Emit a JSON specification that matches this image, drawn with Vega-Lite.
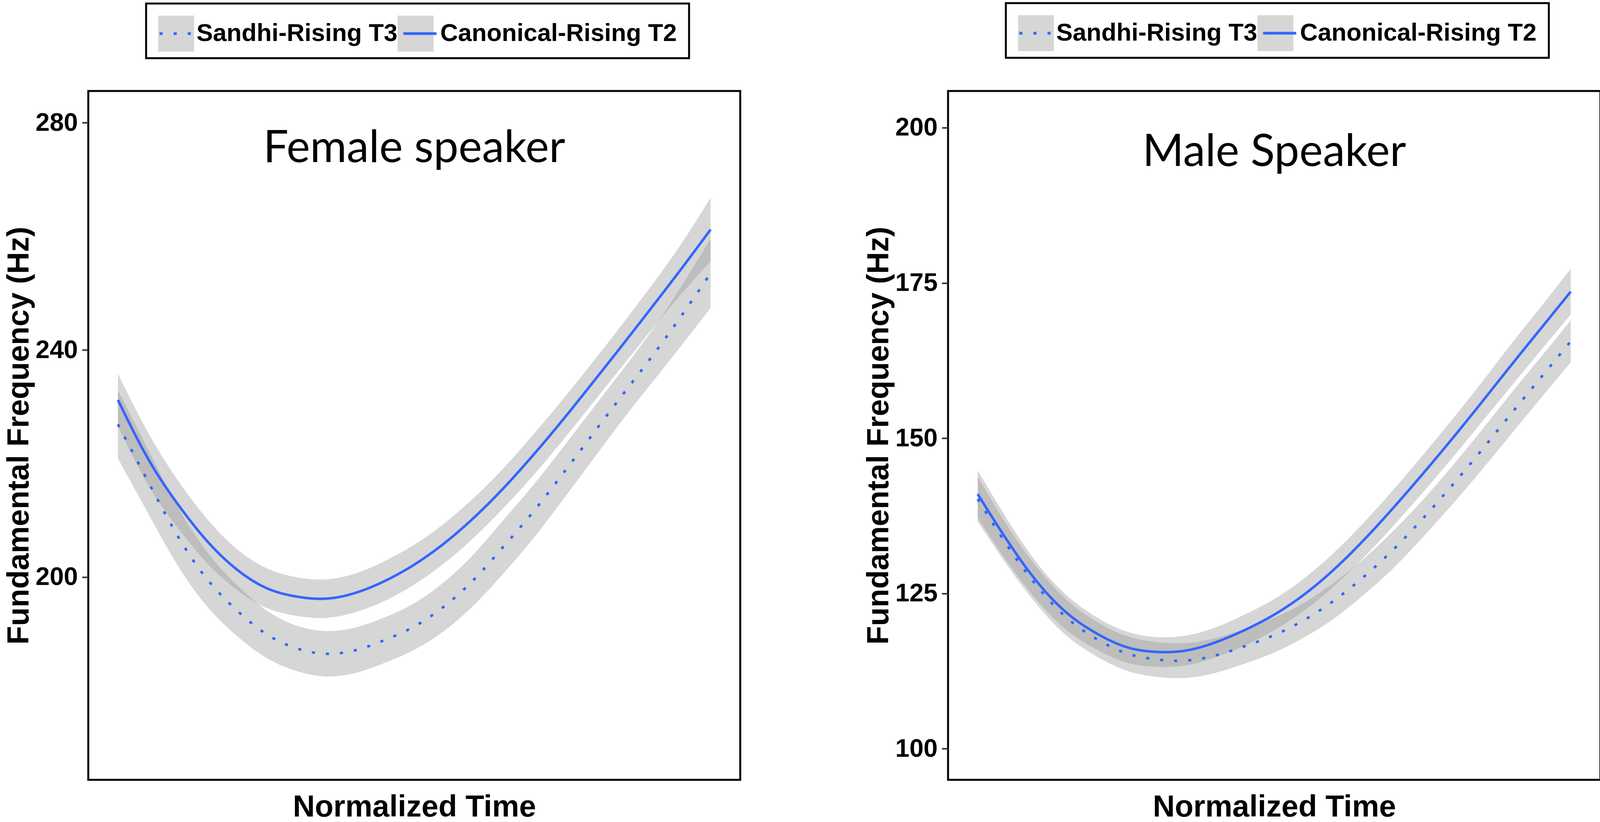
{
  "$schema": "https://vega.github.io/schema/vega-lite/v6.json",
  "background": "white",
  "padding": {"left": 8, "top": 3, "right": 0, "bottom": 0},
  "data": {
    "values": [
      {"speaker": "Female", "tone": "Sandhi-Rising T3", "t": 0.00, "f0": 226.9, "lo": 220.9, "hi": 232.9},
      {"speaker": "Female", "tone": "Sandhi-Rising T3", "t": 0.05, "f0": 217.0, "lo": 211.4, "hi": 222.6},
      {"speaker": "Female", "tone": "Sandhi-Rising T3", "t": 0.10, "f0": 207.4, "lo": 202.2, "hi": 212.6},
      {"speaker": "Female", "tone": "Sandhi-Rising T3", "t": 0.15, "f0": 199.7, "lo": 194.9, "hi": 204.5},
      {"speaker": "Female", "tone": "Sandhi-Rising T3", "t": 0.20, "f0": 194.2, "lo": 189.7, "hi": 198.7},
      {"speaker": "Female", "tone": "Sandhi-Rising T3", "t": 0.25, "f0": 190.0, "lo": 185.8, "hi": 194.2},
      {"speaker": "Female", "tone": "Sandhi-Rising T3", "t": 0.30, "f0": 187.5, "lo": 183.5, "hi": 191.5},
      {"speaker": "Female", "tone": "Sandhi-Rising T3", "t": 0.35, "f0": 186.5, "lo": 182.5, "hi": 190.5},
      {"speaker": "Female", "tone": "Sandhi-Rising T3", "t": 0.40, "f0": 187.1, "lo": 183.1, "hi": 191.1},
      {"speaker": "Female", "tone": "Sandhi-Rising T3", "t": 0.45, "f0": 188.9, "lo": 184.9, "hi": 192.9},
      {"speaker": "Female", "tone": "Sandhi-Rising T3", "t": 0.50, "f0": 191.3, "lo": 187.2, "hi": 195.4},
      {"speaker": "Female", "tone": "Sandhi-Rising T3", "t": 0.55, "f0": 194.8, "lo": 190.5, "hi": 199.1},
      {"speaker": "Female", "tone": "Sandhi-Rising T3", "t": 0.60, "f0": 199.5, "lo": 195.0, "hi": 204.0},
      {"speaker": "Female", "tone": "Sandhi-Rising T3", "t": 0.65, "f0": 205.3, "lo": 200.6, "hi": 210.0},
      {"speaker": "Female", "tone": "Sandhi-Rising T3", "t": 0.70, "f0": 211.4, "lo": 206.7, "hi": 216.1},
      {"speaker": "Female", "tone": "Sandhi-Rising T3", "t": 0.75, "f0": 218.1, "lo": 213.5, "hi": 222.7},
      {"speaker": "Female", "tone": "Sandhi-Rising T3", "t": 0.80, "f0": 225.0, "lo": 220.5, "hi": 229.5},
      {"speaker": "Female", "tone": "Sandhi-Rising T3", "t": 0.85, "f0": 231.9, "lo": 227.5, "hi": 236.3},
      {"speaker": "Female", "tone": "Sandhi-Rising T3", "t": 0.90, "f0": 238.7, "lo": 234.1, "hi": 243.3},
      {"speaker": "Female", "tone": "Sandhi-Rising T3", "t": 0.95, "f0": 245.9, "lo": 240.7, "hi": 251.1},
      {"speaker": "Female", "tone": "Sandhi-Rising T3", "t": 1.00, "f0": 253.5, "lo": 247.4, "hi": 259.6},
      {"speaker": "Female", "tone": "Canonical-Rising T2", "t": 0.00, "f0": 231.2, "lo": 226.6, "hi": 235.8},
      {"speaker": "Female", "tone": "Canonical-Rising T2", "t": 0.05, "f0": 221.0, "lo": 216.4, "hi": 225.6},
      {"speaker": "Female", "tone": "Canonical-Rising T2", "t": 0.10, "f0": 213.0, "lo": 208.8, "hi": 217.2},
      {"speaker": "Female", "tone": "Canonical-Rising T2", "t": 0.15, "f0": 206.4, "lo": 202.5, "hi": 210.3},
      {"speaker": "Female", "tone": "Canonical-Rising T2", "t": 0.20, "f0": 201.4, "lo": 197.8, "hi": 205.0},
      {"speaker": "Female", "tone": "Canonical-Rising T2", "t": 0.25, "f0": 198.1, "lo": 194.6, "hi": 201.6},
      {"speaker": "Female", "tone": "Canonical-Rising T2", "t": 0.30, "f0": 196.6, "lo": 193.2, "hi": 200.0},
      {"speaker": "Female", "tone": "Canonical-Rising T2", "t": 0.35, "f0": 196.2, "lo": 192.8, "hi": 199.6},
      {"speaker": "Female", "tone": "Canonical-Rising T2", "t": 0.40, "f0": 197.2, "lo": 193.8, "hi": 200.6},
      {"speaker": "Female", "tone": "Canonical-Rising T2", "t": 0.45, "f0": 199.3, "lo": 195.8, "hi": 202.8},
      {"speaker": "Female", "tone": "Canonical-Rising T2", "t": 0.50, "f0": 202.2, "lo": 198.7, "hi": 205.7},
      {"speaker": "Female", "tone": "Canonical-Rising T2", "t": 0.55, "f0": 205.9, "lo": 202.4, "hi": 209.4},
      {"speaker": "Female", "tone": "Canonical-Rising T2", "t": 0.60, "f0": 210.4, "lo": 206.9, "hi": 213.9},
      {"speaker": "Female", "tone": "Canonical-Rising T2", "t": 0.65, "f0": 215.6, "lo": 212.1, "hi": 219.1},
      {"speaker": "Female", "tone": "Canonical-Rising T2", "t": 0.70, "f0": 221.4, "lo": 217.8, "hi": 225.0},
      {"speaker": "Female", "tone": "Canonical-Rising T2", "t": 0.75, "f0": 227.6, "lo": 224.0, "hi": 231.2},
      {"speaker": "Female", "tone": "Canonical-Rising T2", "t": 0.80, "f0": 234.1, "lo": 230.5, "hi": 237.7},
      {"speaker": "Female", "tone": "Canonical-Rising T2", "t": 0.85, "f0": 240.7, "lo": 237.0, "hi": 244.4},
      {"speaker": "Female", "tone": "Canonical-Rising T2", "t": 0.90, "f0": 247.4, "lo": 243.5, "hi": 251.3},
      {"speaker": "Female", "tone": "Canonical-Rising T2", "t": 0.95, "f0": 254.2, "lo": 249.8, "hi": 258.6},
      {"speaker": "Female", "tone": "Canonical-Rising T2", "t": 1.00, "f0": 261.2, "lo": 255.6, "hi": 266.8},
      {"speaker": "Male", "tone": "Sandhi-Rising T3", "t": 0.00, "f0": 140.2, "lo": 136.6, "hi": 143.8},
      {"speaker": "Male", "tone": "Sandhi-Rising T3", "t": 0.05, "f0": 132.7, "lo": 129.5, "hi": 135.9},
      {"speaker": "Male", "tone": "Sandhi-Rising T3", "t": 0.10, "f0": 126.2, "lo": 123.2, "hi": 129.2},
      {"speaker": "Male", "tone": "Sandhi-Rising T3", "t": 0.15, "f0": 121.1, "lo": 118.2, "hi": 124.0},
      {"speaker": "Male", "tone": "Sandhi-Rising T3", "t": 0.20, "f0": 117.7, "lo": 114.9, "hi": 120.5},
      {"speaker": "Male", "tone": "Sandhi-Rising T3", "t": 0.25, "f0": 115.4, "lo": 112.6, "hi": 118.2},
      {"speaker": "Male", "tone": "Sandhi-Rising T3", "t": 0.30, "f0": 114.4, "lo": 111.6, "hi": 117.2},
      {"speaker": "Male", "tone": "Sandhi-Rising T3", "t": 0.35, "f0": 114.2, "lo": 111.4, "hi": 117.0},
      {"speaker": "Male", "tone": "Sandhi-Rising T3", "t": 0.40, "f0": 115.0, "lo": 112.2, "hi": 117.8},
      {"speaker": "Male", "tone": "Sandhi-Rising T3", "t": 0.45, "f0": 116.5, "lo": 113.7, "hi": 119.3},
      {"speaker": "Male", "tone": "Sandhi-Rising T3", "t": 0.50, "f0": 118.3, "lo": 115.5, "hi": 121.1},
      {"speaker": "Male", "tone": "Sandhi-Rising T3", "t": 0.55, "f0": 120.7, "lo": 117.9, "hi": 123.5},
      {"speaker": "Male", "tone": "Sandhi-Rising T3", "t": 0.60, "f0": 123.8, "lo": 120.9, "hi": 126.7},
      {"speaker": "Male", "tone": "Sandhi-Rising T3", "t": 0.65, "f0": 127.6, "lo": 124.7, "hi": 130.5},
      {"speaker": "Male", "tone": "Sandhi-Rising T3", "t": 0.70, "f0": 132.0, "lo": 129.0, "hi": 135.0},
      {"speaker": "Male", "tone": "Sandhi-Rising T3", "t": 0.75, "f0": 137.0, "lo": 134.0, "hi": 140.0},
      {"speaker": "Male", "tone": "Sandhi-Rising T3", "t": 0.80, "f0": 142.4, "lo": 139.3, "hi": 145.5},
      {"speaker": "Male", "tone": "Sandhi-Rising T3", "t": 0.85, "f0": 148.1, "lo": 144.9, "hi": 151.3},
      {"speaker": "Male", "tone": "Sandhi-Rising T3", "t": 0.90, "f0": 154.0, "lo": 150.7, "hi": 157.3},
      {"speaker": "Male", "tone": "Sandhi-Rising T3", "t": 0.95, "f0": 159.8, "lo": 156.5, "hi": 163.1},
      {"speaker": "Male", "tone": "Sandhi-Rising T3", "t": 1.00, "f0": 165.6, "lo": 162.2, "hi": 169.0},
      {"speaker": "Male", "tone": "Canonical-Rising T2", "t": 0.00, "f0": 141.0, "lo": 137.2, "hi": 144.8},
      {"speaker": "Male", "tone": "Canonical-Rising T2", "t": 0.05, "f0": 133.5, "lo": 130.1, "hi": 136.9},
      {"speaker": "Male", "tone": "Canonical-Rising T2", "t": 0.10, "f0": 126.9, "lo": 123.9, "hi": 129.9},
      {"speaker": "Male", "tone": "Canonical-Rising T2", "t": 0.15, "f0": 121.9, "lo": 119.1, "hi": 124.7},
      {"speaker": "Male", "tone": "Canonical-Rising T2", "t": 0.20, "f0": 118.6, "lo": 116.0, "hi": 121.2},
      {"speaker": "Male", "tone": "Canonical-Rising T2", "t": 0.25, "f0": 116.4, "lo": 113.9, "hi": 118.9},
      {"speaker": "Male", "tone": "Canonical-Rising T2", "t": 0.30, "f0": 115.6, "lo": 113.2, "hi": 118.0},
      {"speaker": "Male", "tone": "Canonical-Rising T2", "t": 0.35, "f0": 115.8, "lo": 113.4, "hi": 118.2},
      {"speaker": "Male", "tone": "Canonical-Rising T2", "t": 0.40, "f0": 117.1, "lo": 114.7, "hi": 119.5},
      {"speaker": "Male", "tone": "Canonical-Rising T2", "t": 0.45, "f0": 119.1, "lo": 116.6, "hi": 121.6},
      {"speaker": "Male", "tone": "Canonical-Rising T2", "t": 0.50, "f0": 121.6, "lo": 119.1, "hi": 124.1},
      {"speaker": "Male", "tone": "Canonical-Rising T2", "t": 0.55, "f0": 124.8, "lo": 122.2, "hi": 127.4},
      {"speaker": "Male", "tone": "Canonical-Rising T2", "t": 0.60, "f0": 128.8, "lo": 126.1, "hi": 131.5},
      {"speaker": "Male", "tone": "Canonical-Rising T2", "t": 0.65, "f0": 133.5, "lo": 130.7, "hi": 136.3},
      {"speaker": "Male", "tone": "Canonical-Rising T2", "t": 0.70, "f0": 138.7, "lo": 135.8, "hi": 141.6},
      {"speaker": "Male", "tone": "Canonical-Rising T2", "t": 0.75, "f0": 144.2, "lo": 141.2, "hi": 147.2},
      {"speaker": "Male", "tone": "Canonical-Rising T2", "t": 0.80, "f0": 149.9, "lo": 146.8, "hi": 153.0},
      {"speaker": "Male", "tone": "Canonical-Rising T2", "t": 0.85, "f0": 155.8, "lo": 152.6, "hi": 159.0},
      {"speaker": "Male", "tone": "Canonical-Rising T2", "t": 0.90, "f0": 161.8, "lo": 158.4, "hi": 165.2},
      {"speaker": "Male", "tone": "Canonical-Rising T2", "t": 0.95, "f0": 167.7, "lo": 164.2, "hi": 171.2},
      {"speaker": "Male", "tone": "Canonical-Rising T2", "t": 1.00, "f0": 173.6, "lo": 169.9, "hi": 177.3}
    ]
  },
  "spacing": 311,
  "resolve": {
    "scale": {"fill": "independent", "strokeDash": "independent", "y": "independent"},
    "legend": {"fill": "independent", "strokeDash": "independent"}
  },
  "hconcat": [
    {
      "width": 1669,
      "height": 1764,
      "title": {"text": "Female speaker", "font": "Lato", "fontSize": 114, "fontWeight": "normal", "color": "black", "anchor": "middle", "frame": "group", "baseline": "top", "offset": -432},
      "transform": [{"filter": "datum.speaker == 'Female'"}],
      "encoding": {
        "x": {
          "field": "t",
          "type": "quantitative",
          "scale": {"domain": [-0.05, 1.05], "nice": false, "zero": false},
          "axis": {"title": "Normalized Time", "labels": false, "ticks": false, "domain": false, "grid": false, "titlePadding": 31}
        }
      },
      "layer": [
        {
          "mark": {"type": "area", "fillOpacity": 0.4, "interpolate": "natural"},
          "encoding": {
            "y": {
              "field": "lo",
              "type": "quantitative",
              "scale": {"domain": [164.3, 285.6], "nice": false, "zero": false},
              "axis": {"title": "Fundamental Frequency (Hz)", "values": [200, 240, 280], "grid": false, "domain": false}
            },
            "y2": {"field": "hi"},
            "fill": {
              "field": "tone",
              "type": "nominal",
              "sort": ["Sandhi-Rising T3", "Canonical-Rising T2"],
              "scale": {"range": ["#999999", "#999999"]},
              "legend": {
                "orient": "none", "legendX": 148, "legendY": -224, "direction": "horizontal", "title": null,
                "symbolType": "square", "symbolSize": 8464, "symbolStrokeWidth": 0, "symbolOpacity": 0.4,
                "labelExpr": "''", "labelFontSize": 63, "labelOffset": 6,
                "columnPadding": 515, "padding": 31
              }
            }
          }
        },
        {
          "mark": {"type": "line", "color": "#3366FF", "strokeWidth": 6.5, "interpolate": "natural"},
          "encoding": {
            "y": {"field": "f0", "type": "quantitative"},
            "strokeDash": {
              "field": "tone",
              "type": "nominal",
              "scale": {"domain": ["Sandhi-Rising T3", "Canonical-Rising T2"], "range": [[8, 28], [1, 0]]},
              "legend": {
                "orient": "none", "legendX": 148, "legendY": -224, "direction": "horizontal", "title": null,
                "symbolType": "stroke", "symbolSize": 7225, "symbolStrokeWidth": 7, "symbolStrokeColor": "#3366FF",
                "labelFontSize": 63, "labelFontWeight": "bold", "labelColor": "black", "labelOffset": 6, "labelLimit": 2000,
                "columnPadding": 0, "padding": 31, "strokeColor": "black"
              }
            }
          }
        }
      ]
    },
    {
      "width": 1670,
      "height": 1764,
      "title": {"text": "Male Speaker", "font": "Lato", "fontSize": 114, "fontWeight": "normal", "color": "black", "anchor": "middle", "frame": "group", "baseline": "top", "offset": -443},
      "transform": [{"filter": "datum.speaker == 'Male'"}],
      "encoding": {
        "x": {
          "field": "t",
          "type": "quantitative",
          "scale": {"domain": [-0.05, 1.05], "nice": false, "zero": false},
          "axis": {"title": "Normalized Time", "labels": false, "ticks": false, "domain": false, "grid": false, "titlePadding": 31}
        }
      },
      "layer": [
        {
          "mark": {"type": "area", "fillOpacity": 0.4, "interpolate": "natural"},
          "encoding": {
            "y": {
              "field": "lo",
              "type": "quantitative",
              "scale": {"domain": [95.0, 205.9], "nice": false, "zero": false},
              "axis": {"title": "Fundamental Frequency (Hz)", "values": [100, 125, 150, 175, 200], "grid": false, "domain": false}
            },
            "y2": {"field": "hi"},
            "fill": {
              "field": "tone",
              "type": "nominal",
              "sort": ["Sandhi-Rising T3", "Canonical-Rising T2"],
              "scale": {"range": ["#999999", "#999999"]},
              "legend": {
                "orient": "none", "legendX": 148, "legendY": -225, "direction": "horizontal", "title": null,
                "symbolType": "square", "symbolSize": 8464, "symbolStrokeWidth": 0, "symbolOpacity": 0.4,
                "labelExpr": "''", "labelFontSize": 63, "labelOffset": 6,
                "columnPadding": 515, "padding": 31
              }
            }
          }
        },
        {
          "mark": {"type": "line", "color": "#3366FF", "strokeWidth": 6.5, "interpolate": "natural"},
          "encoding": {
            "y": {"field": "f0", "type": "quantitative"},
            "strokeDash": {
              "field": "tone",
              "type": "nominal",
              "scale": {"domain": ["Sandhi-Rising T3", "Canonical-Rising T2"], "range": [[8, 28], [1, 0]]},
              "legend": {
                "orient": "none", "legendX": 148, "legendY": -225, "direction": "horizontal", "title": null,
                "symbolType": "stroke", "symbolSize": 7225, "symbolStrokeWidth": 7, "symbolStrokeColor": "#3366FF",
                "labelFontSize": 63, "labelFontWeight": "bold", "labelColor": "black", "labelOffset": 6, "labelLimit": 2000,
                "columnPadding": 0, "padding": 31, "strokeColor": "black"
              }
            }
          }
        }
      ]
    }
  ],
  "config": {
    "font": "Liberation Sans",
    "view": {"stroke": "black", "strokeWidth": 5},
    "legend": {"labelFont": "Liberation Sans", "strokeWidth": 5},
    "axis": {
      "labelFont": "Liberation Sans",
      "labelFontSize": 65,
      "labelFontWeight": "bold",
      "labelColor": "black",
      "labelPadding": 11,
      "tickSize": 16,
      "tickWidth": 4,
      "tickColor": "#333333",
      "titleFont": "Liberation Sans",
      "titleFontSize": 78,
      "titleFontWeight": "bold",
      "titleColor": "black",
      "titlePadding": 2
    }
  }
}
